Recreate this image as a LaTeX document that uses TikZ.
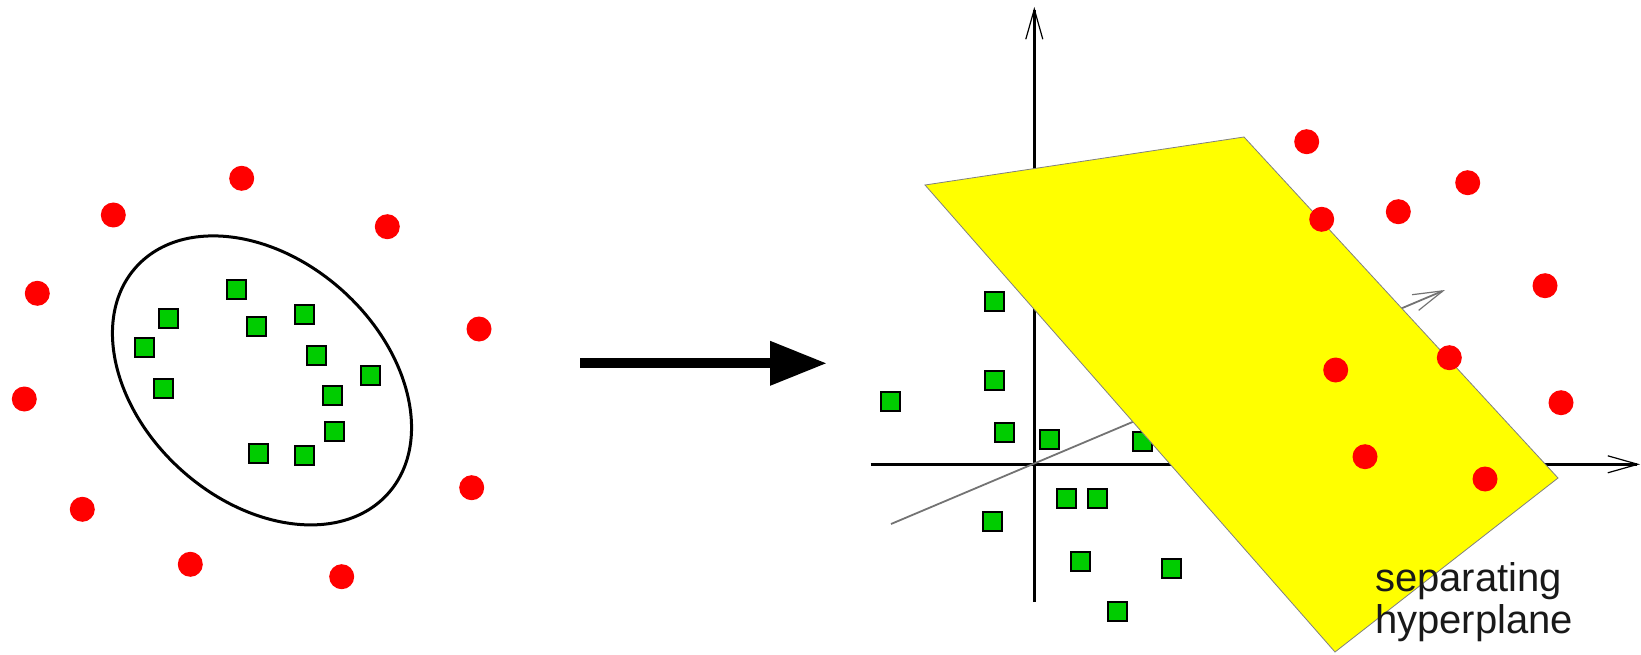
\documentclass[tikz,border=0pt]{standalone}
\usepackage{fontspec}
\newfontfamily\labelfont{Liberation Sans}
\usetikzlibrary{arrows.meta}
\definecolor{ptgreen}{RGB}{0,204,0}
\definecolor{ptred}{RGB}{255,0,0}
\definecolor{planeyellow}{RGB}{255,255,0}
\begin{document}
\begin{tikzpicture}[x=1pt,y=-1pt,
  sq/.style={draw=black,fill=ptgreen,line width=2pt,minimum size=19pt,inner sep=0pt,outer sep=0pt},
  dot/.style={circle,fill=ptred,minimum size=25pt,inner sep=0pt,outer sep=0pt},
  axisline/.style={line width=2.5pt,black,-{Straight Barb[length=30pt,width=17pt,line width=1.2pt]}},
  depthline/.style={line width=1.8pt,black!55,-{Straight Barb[length=30pt,width=17pt,line width=1.2pt]}},
  bigarrow/.style={line width=10pt,black,-{Triangle[length=57pt,width=42pt]}},
  planestyle/.style={fill=planeyellow,draw=black!50,line width=0.8pt,line join=miter},
  lbl/.style={anchor=base west,inner sep=0pt,font=\labelfont\fontsize{40}{42}\selectfont,text=black!90}
]
\useasboundingbox (0,0) rectangle (1641,655);

% ---------- left panel ----------
\draw[line width=3pt,rotate around={-42:(262,380.4)}] (262,380.4) ellipse [x radius=169.4, y radius=120.6];

\foreach \n/\p in {a/{(236,289)},b/{(168.7,318.7)},c/{(304.3,314.3)},d/{(256,326)},
                   e/{(144.7,347.7)},f/{(316.7,355)},g/{(370.3,375.7)},h/{(163.3,388)},
                   i/{(332.3,395.7)},j/{(334.7,431)},k/{(258.7,453.7)},l/{(304,455)}}
  \node[sq] (ls\n) at \p {};

\foreach \n/\p in {1/{(241.7,178.3)},2/{(113.3,215)},3/{(387.3,226.7)},4/{(37.3,293.3)},
                   5/{(479,329)},6/{(24.3,399)},7/{(471.7,487.7)},8/{(82.3,509.3)},
                   9/{(190.3,564.3)},10/{(341.7,576.7)}}
  \node[dot] (lc\n) at \p {};

% ---------- mapping arrow ----------
\coordinate (arrS) at (580,363.3);
\coordinate (arrE) at (827,363.3);
\draw[bigarrow] (arrS) -- (arrE);

% ---------- right panel: axes ----------
\coordinate (vB) at (1034.3,602);
\coordinate (vT) at (1034.3,7);
\coordinate (hL) at (870.7,464.3);
\coordinate (hR) at (1640,464.3);
\coordinate (dL) at (891,524);
\coordinate (dR) at (1445,290);
\draw[axisline] (vB) -- (vT);
\draw[axisline] (hL) -- (hR);
\draw[depthline] (dL) -- (dR);

% green squares
\foreach \n/\p in {1/{(994,301.7)},2/{(994,380.7)},3/{(890,401)},4/{(1004,432.7)},
                   5/{(1049.3,439)},6/{(1142.3,441.7)},7/{(1066,498.3)},8/{(1097.7,498.3)},
                   9/{(992.7,521.7)},10/{(1080,561)},11/{(1171,568.3)},12/{(1117.7,611.7)}}
  \node[sq] (rs\n) at \p {};

% separating plane
\coordinate (pA) at (925,185);
\coordinate (pB) at (1244,137);
\coordinate (pC) at (1558,478);
\coordinate (pD) at (1335,652);
\draw[planestyle] (pA) -- (pB) -- (pC) -- (pD) -- cycle;

% red circles
\foreach \n/\p in {1/{(1306.7,141.7)},2/{(1467.7,182.7)},3/{(1398.3,211.7)},4/{(1321.7,219.3)},
                   5/{(1545,285.7)},6/{(1449.3,357.7)},7/{(1335.7,370)},8/{(1561,402.7)},
                   9/{(1365,456.7)},10/{(1485,479)}}
  \node[dot] (rc\n) at \p {};

% label
\node[lbl] (t1) at (1375,591.7) {separating};
\node[lbl] (t2) at (1375,633.3) {hyperplane};
\end{tikzpicture}
\end{document}
